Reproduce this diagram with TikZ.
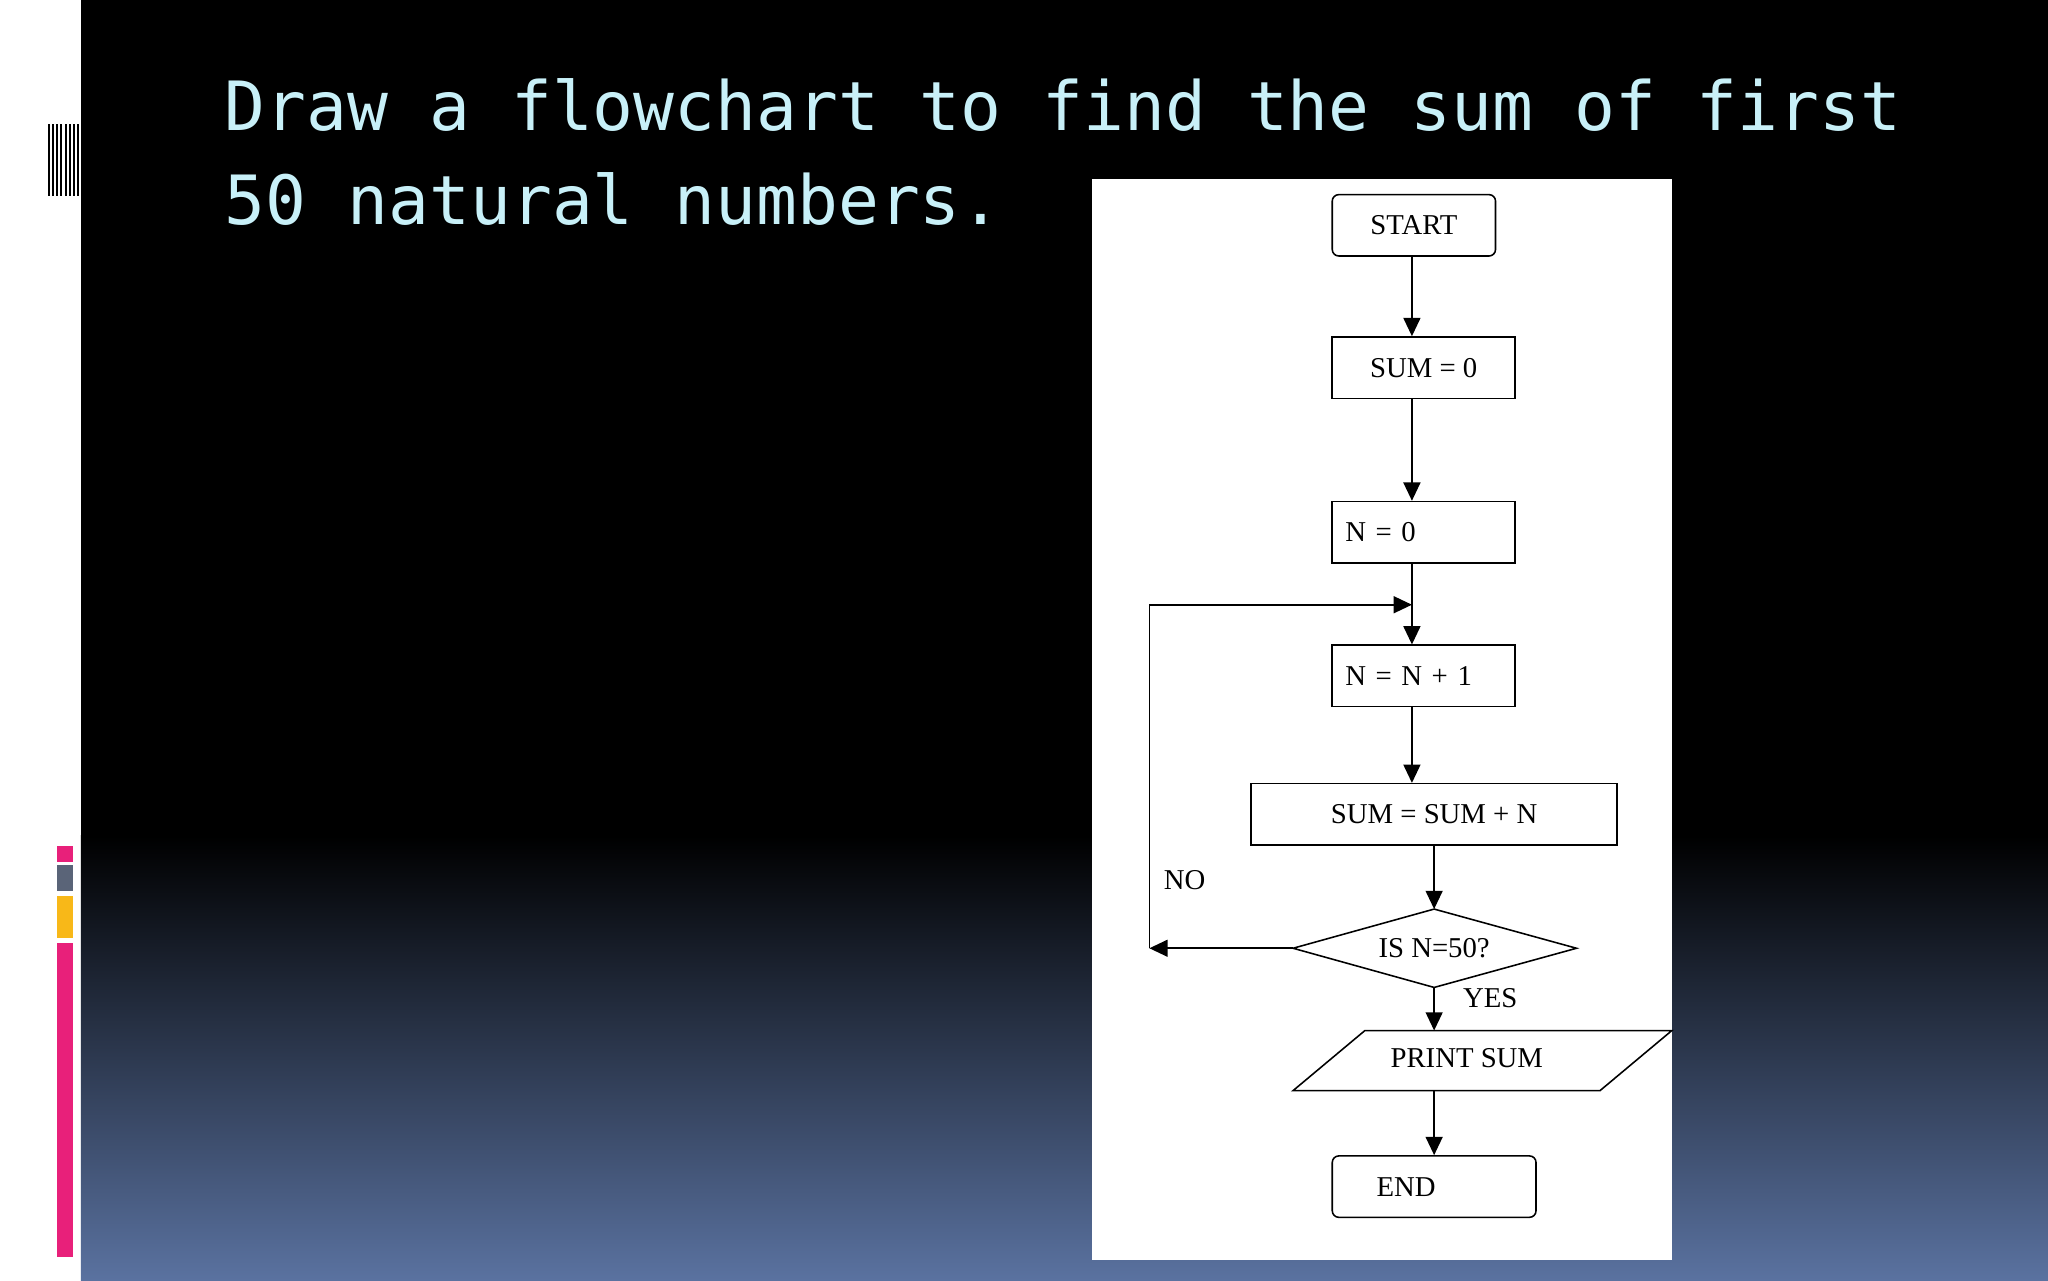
\documentclass[tikz,border=0pt]{standalone}
\usepackage{fontspec}
\setmainfont{Liberation Serif}
\newfontfamily\titlefont{DejaVu Sans Mono}
\usetikzlibrary{arrows.meta}
\definecolor{titlec}{HTML}{C8F0F8}
\definecolor{botblue}{HTML}{5A72A0}
\definecolor{barpink}{HTML}{E8207A}
\definecolor{bargrey}{HTML}{5A6478}
\definecolor{baryel}{HTML}{F8B818}
\begin{document}
\begin{tikzpicture}[x=1pt,y=-1pt,
  box/.style={draw,line width=1.2pt,fill=white,inner sep=0pt,font=\fontsize{22}{24}\selectfont},
  arr/.style={line width=1.2pt,-{Triangle[length=14pt,width=13pt]}},
  lbl/.style={font=\fontsize{22}{24}\selectfont,inner sep=0pt}]
\useasboundingbox (0,0) rectangle (1568,980);
\fill[white] (0,0) rectangle (1568,980);
\fill[black] (62,0) rectangle (1568,641);
\shade[top color=black,bottom color=botblue] (62,640) rectangle (1568,980);
% left decoration
\foreach \x in {37,40,43,46,50,53,56,59}{\fill[black] (\x,95) rectangle (\x+1.6,150);}
\fill[barpink] (44,648) rectangle (56,660);
\fill[bargrey] (44,662) rectangle (56,682);
\fill[baryel] (44,686) rectangle (56,718);
\fill[barpink] (44,722) rectangle (56,962);
% title
\node[anchor=base west,inner sep=0pt,text=titlec,font=\titlefont\fontsize{52}{60}\selectfont] (t1) at (172,100) {Draw a flowchart to find the sum of first};
\node[anchor=base west,inner sep=0pt,text=titlec,font=\titlefont\fontsize{52}{60}\selectfont] (t2) at (172,172) {50 natural numbers.};
% panel
\fill[white] (836,137) rectangle (1280,965);
\node[box,rounded corners=5pt,minimum width=125pt,minimum height=47pt] (start) at (1082.5,172.5) {START};
\node[box,minimum width=140pt,minimum height=47pt] (sum0) at (1090,281.5) {SUM = 0};
\node[box,minimum width=140pt,minimum height=47pt,text width=120pt,align=left] (n0) at (1090,407.5) {N = 0};
\node[box,minimum width=140pt,minimum height=47pt,text width=120pt,align=left] (n1) at (1090,517.5) {N = N + 1};
\node[box,minimum width=280pt,minimum height=47pt] (sn) at (1098,623.5) {SUM = SUM + N};
\draw[line width=1.2pt,fill=white] (990,726) -- (1098,696) -- (1207,726) -- (1098,756) -- cycle;
\node[lbl] (dec) at (1098,726) {IS N=50?};
\coordinate (dl) at (990,726);
\coordinate (dt) at (1098,696);
\coordinate (db) at (1098,756);
\draw[line width=1.2pt,fill=white] (1045,789) -- (1280,789) -- (1225,835) -- (990,835) -- cycle;
\node[lbl] (pr) at (1123,810) {PRINT SUM};
\coordinate (pt) at (1098,789);
\coordinate (pb) at (1098,835);
\node[box,rounded corners=5pt,minimum width=156pt,minimum height=47pt,text width=136pt,align=left] (end) at (1098,908.5) {\hspace*{24pt}END};
% connectors
\draw[arr] (start.south -| 1081,0) -- (sum0.north -| 1081,0);
\draw[arr] (sum0.south -| 1081,0) -- (n0.north -| 1081,0);
\draw[arr] (n0.south -| 1081,0) -- (n1.north -| 1081,0);
\draw[arr] (n1.south -| 1081,0) -- (sn.north -| 1081,0);
\draw[arr] (sn.south -| 1098,0) -- (dt);
\coordinate (lc) at (880,726);
\coordinate (tc) at (880,463);
\coordinate (jn) at (1081,463);
\draw[arr] (dl) -- (lc);
\draw[arr] (lc) -- (tc) -- (jn);
\draw[arr] (db) -- (pt);
\draw[arr] (pb) -- (end.north -| 1098,0);
\node[lbl] (no) at (907,674) {NO};
\node[lbl] (yes) at (1141,764) {YES};
\end{tikzpicture}
\end{document}
